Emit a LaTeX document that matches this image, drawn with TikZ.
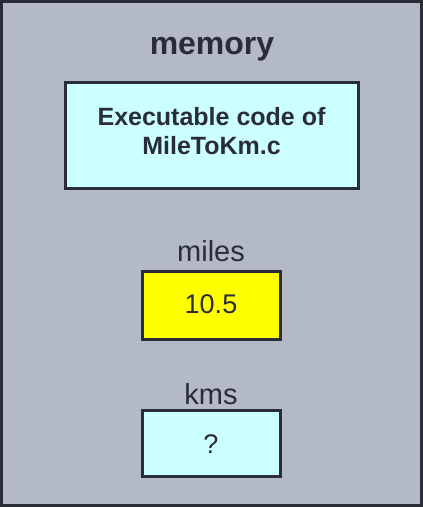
\documentclass[tikz,border=0pt]{standalone}
\usepackage{fontspec}
\setmainfont{Liberation Sans}
\definecolor{ink}{HTML}{2A2D37}
\definecolor{bggray}{HTML}{B3BAC5}
\definecolor{cyanbox}{HTML}{CCFFFF}
\definecolor{yel}{HTML}{FFFF00}
\begin{document}
\begin{tikzpicture}[x=1pt,y=-1pt,
  box/.style={draw=ink,line width=3pt,inner sep=0pt,outer sep=0pt},
  lbl/.style={text=ink,inner sep=0pt,anchor=base}]
\useasboundingbox (0,0) rectangle (423,507);
\node[box,fill=bggray,minimum width=420pt,minimum height=504pt] (mem) at (211.5,253.5) {};
\node[lbl,font=\fontsize{32}{36}\selectfont\bfseries] (title) at (212,54) {memory};
\node[box,fill=cyanbox,minimum width=293pt,minimum height=106pt] (code) at (211.5,135) {};
\node[lbl,font=\fontsize{25}{29}\selectfont\bfseries] (codetxt1) at (211.5,125) {Executable code of};
\node[lbl,font=\fontsize{25}{29}\selectfont\bfseries] (codetxt2) at (211.5,154) {MileToKm.c};
\node[lbl,font=\fontsize{29}{32}\selectfont] (mileslbl) at (211,261) {miles};
\node[box,fill=yel,minimum width=138pt,minimum height=68pt] (miles) at (211,305) {};
\node[lbl,font=\fontsize{27}{30}\selectfont] (milesval) at (211,313) {10.5};
\node[lbl,font=\fontsize{29}{32}\selectfont] (kmslbl) at (211,404) {kms};
\node[box,fill=cyanbox,minimum width=138pt,minimum height=66pt] (kms) at (211,443) {};
\node[lbl,font=\fontsize{27}{30}\selectfont] (kmsval) at (211,453) {?};
\end{tikzpicture}
\end{document}
